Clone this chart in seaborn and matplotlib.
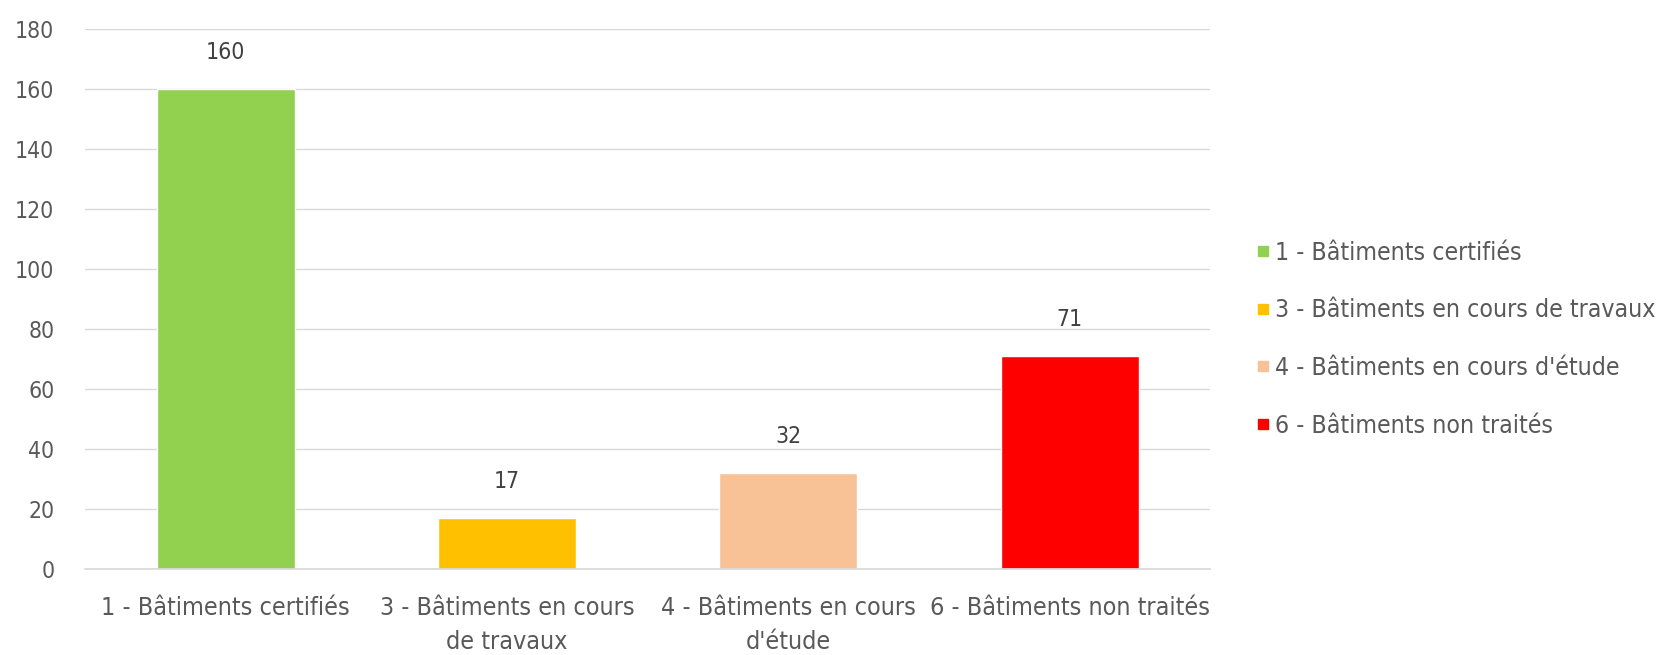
import matplotlib
matplotlib.use("Agg")
import matplotlib.pyplot as plt
from matplotlib.lines import Line2D
import seaborn as sns
import pandas as pd

# categories and values
categories = [
    "1 - Bâtiments certifiés",
    "3 - Bâtiments en cours de travaux",
    "4 - Bâtiments en cours d'étude",
    "6 - Bâtiments non traités",
]
tick_labels = [
    "1 - Bâtiments certifiés",
    "3 - Bâtiments en cours\nde travaux",
    "4 - Bâtiments en cours\nd'étude",
    "6 - Bâtiments non traités",
]
counts = [160, 17, 32, 71]
colors = ["#92D050", "#FFC000", "#F8C196", "#FF0000"]

df = pd.DataFrame({"categorie": categories, "nombre": counts})

sns.set_theme(style="white")
plt.rcParams["font.family"] = ["DejaVu Sans"]
plt.rcParams["font.stretch"] = "condensed"
text_col = "#595959"

fig = plt.figure(figsize=(16.65, 6.55), dpi=100)
ax = fig.add_axes([0.051, 0.131, 0.676, 0.825])

sns.barplot(data=df, x="categorie", y="nombre", hue="categorie",
            palette=colors, width=0.49, legend=False, ax=ax, saturation=1)

ax.set_ylim(0, 180)
ax.set_xlim(-0.5, 3.5)
ax.set_yticks(range(0, 181, 20))
ax.yaxis.grid(True, color="#d9d9d9", linewidth=1)
ax.set_axisbelow(True)
ax.set_xlabel("")
ax.set_ylabel("")

for side in ["top", "right", "left"]:
    ax.spines[side].set_visible(False)
ax.spines["bottom"].set_color("#d9d9d9")

ax.set_xticks(range(len(categories)))
ax.set_xticklabels(tick_labels, fontsize=18, color=text_col, linespacing=1.55)
ax.set_xticks([-0.5, 0.5, 1.5, 2.5, 3.5], minor=True)
ax.tick_params(axis="x", which="major", length=0, pad=19)
ax.tick_params(axis="x", which="minor", length=9, color="#d9d9d9", width=1)
ax.tick_params(axis="y", length=0, labelsize=16.5, labelcolor=text_col, pad=22)

for i, v in enumerate(counts):
    ax.annotate(str(v), (i, v), xytext=(0, 18), textcoords="offset points",
                ha="center", va="bottom", fontsize=16.5, color="#404040")

handles = [Line2D([], [], marker="s", linestyle="", markersize=7,
                  markerfacecolor=c, markeredgecolor=c) for c in colors]
leg = fig.legend(handles, categories, loc="center left",
                 bbox_to_anchor=(0.739, 0.482), frameon=False,
                 fontsize=17.8, labelspacing=1.36, handletextpad=0.1,
                 handlelength=0.8)
for t in leg.get_texts():
    t.set_color(text_col)

plt.savefig("out.png", dpi=100)
